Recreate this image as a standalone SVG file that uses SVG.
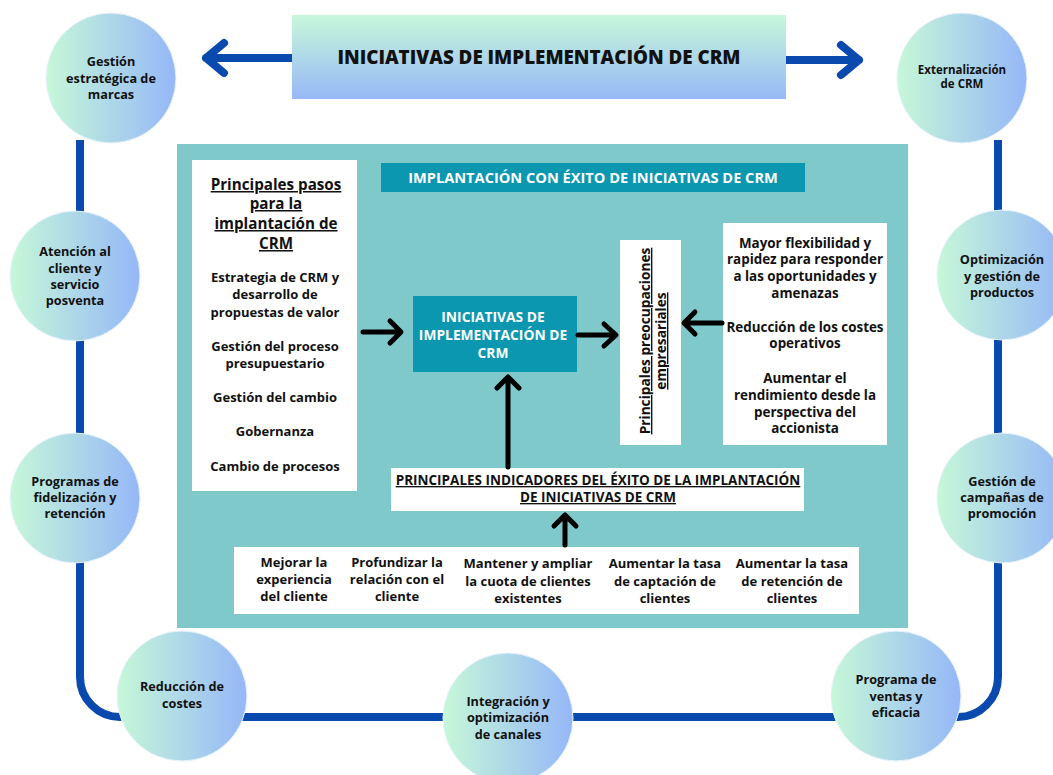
<svg xmlns="http://www.w3.org/2000/svg" width="1053" height="775" viewBox="0 0 1053 775">
<defs>
<linearGradient id="gc" x1="0" y1="0" x2="1" y2="0">
<stop offset="0" stop-color="#c6f8d8"/>
<stop offset="1" stop-color="#95b7f8"/>
</linearGradient>
<linearGradient id="gh" x1="0" y1="0" x2="0" y2="1">
<stop offset="0" stop-color="#c8f8da"/>
<stop offset="1" stop-color="#97b8f7"/>
</linearGradient>
<style>
text{font-family:"Open Sans","Liberation Sans",sans-serif;font-weight:700;fill:#111;text-anchor:middle}
.c{font-size:12.7px}
.b{font-size:13px}
.r{font-size:13.4px}
.w{fill:#fff}
.u{text-decoration:underline}
.circ{fill:url(#gc);stroke:#e8f2ff;stroke-width:1}
.wb{fill:#fff}
.blue{fill:none;stroke:#0a49ad;stroke-width:8;stroke-linecap:round;stroke-linejoin:round}
.blk{fill:none;stroke:#000;stroke-width:5;stroke-linecap:round;stroke-linejoin:round}
</style>
</defs>
<rect width="1053" height="775" fill="#fff"/>
<g id="connectors">
<path d="M80,140 V677 A40,40 0 0 0 120,717 H958 A40,40 0 0 0 998,677 V140" fill="none" stroke="#0a49ad" stroke-width="8"/>
<path class="blue" d="M292,58 H206 M224,43 L206,58 L224,73"/>
<path class="blue" d="M786,60 H859 M841,45 L859,60 L841,75"/>
</g>
<g id="header">
<rect x="292" y="15" width="494" height="84" fill="url(#gh)"/>
<text x="539" y="64" style="font-size:18.8px;font-weight:800">INICIATIVAS DE IMPLEMENTACIÓN DE CRM</text>
</g>
<g id="panel">
<rect x="177" y="144" width="731" height="484" fill="#80c9ca"/>
</g>
<g id="title-bar">
<rect x="381" y="163" width="424" height="29" fill="#0b97b0"/>
<text class="w" x="593" y="183" style="font-size:14.6px">IMPLANTACIÓN CON ÉXITO DE INICIATIVAS DE CRM</text>
</g>
<g id="pasos">
<rect class="wb" x="192" y="160" width="165" height="331"/>
<text class="u" x="276" y="190" style="font-size:15.2px">Principales pasos</text>
<text class="u" x="276" y="209" style="font-size:15.2px">para la</text>
<text class="u" x="276" y="229" style="font-size:15.2px">implantación de</text>
<text class="u" x="276" y="249" style="font-size:15.2px">CRM</text>
<text class="b" x="275" y="282">Estrategia de CRM y</text>
<text class="b" x="275" y="299">desarrollo de</text>
<text class="b" x="275" y="317">propuestas de valor</text>
<text class="b" x="275" y="351">Gestión del proceso</text>
<text class="b" x="275" y="368">presupuestario</text>
<text class="b" x="275" y="402">Gestión del cambio</text>
<text class="b" x="275" y="436">Gobernanza</text>
<text class="b" x="275" y="471">Cambio de procesos</text>
</g>
<g id="iniciativas">
<rect x="413" y="296" width="164" height="76" fill="#0b97b0"/>
<text class="w" x="493" y="322" style="font-size:13.8px">INICIATIVAS DE</text>
<text class="w" x="493" y="340" style="font-size:13.8px">IMPLEMENTACIÓN DE</text>
<text class="w" x="493" y="358" style="font-size:13.8px">CRM</text>
</g>
<g id="preocupaciones">
<rect class="wb" x="620" y="240" width="61" height="205"/>
<g transform="translate(650,341) rotate(-90)">
<text class="u" x="0" y="0" style="font-size:13.7px">Principales preocupaciones</text>
<text class="u" x="0" y="16" style="font-size:13.7px">empresariales</text>
</g>
</g>
<g id="beneficios">
<rect class="wb" x="723" y="223" width="164" height="222"/>
<text class="r" x="805" y="248">Mayor flexibilidad y</text>
<text class="r" x="805" y="264">rapidez para responder</text>
<text class="r" x="805" y="281">a las oportunidades y</text>
<text class="r" x="805" y="298">amenazas</text>
<text class="r" x="805" y="332">Reducción de los costes</text>
<text class="r" x="805" y="348">operativos</text>
<text class="r" x="805" y="383">Aumentar el</text>
<text class="r" x="805" y="400">rendimiento desde la</text>
<text class="r" x="805" y="417">perspectiva del</text>
<text class="r" x="805" y="433">accionista</text>
</g>
<g id="indicadores">
<rect class="wb" x="391" y="468" width="413" height="43"/>
<text class="u" x="598" y="485" style="font-size:13.5px">PRINCIPALES INDICADORES DEL ÉXITO DE LA IMPLANTACIÓN</text>
<text class="u" x="598" y="502" style="font-size:13.5px">DE INICIATIVAS DE CRM</text>
</g>
<g id="metricas">
<rect class="wb" x="234" y="547" width="625" height="67"/>
<text class="b" x="294" y="567">Mejorar la</text>
<text class="b" x="294" y="584">experiencia</text>
<text class="b" x="294" y="601">del cliente</text>
<text class="b" x="397" y="567">Profundizar la</text>
<text class="b" x="397" y="584">relación con el</text>
<text class="b" x="397" y="601">cliente</text>
<text class="b" x="528" y="568">Mantener y ampliar</text>
<text class="b" x="528" y="586">la cuota de clientes</text>
<text class="b" x="528" y="603">existentes</text>
<text class="b" x="665" y="568">Aumentar la tasa</text>
<text class="b" x="665" y="586">de captación de</text>
<text class="b" x="665" y="603">clientes</text>
<text class="b" x="792" y="568">Aumentar la tasa</text>
<text class="b" x="792" y="586">de retención de</text>
<text class="b" x="792" y="603">clientes</text>
</g>
<g id="inner-arrows">
<path class="blk" d="M363,332 H400 M390,321 L401,332 L390,343"/>
<path class="blk" d="M578,335 H615 M604,324 L616,335 L604,346"/>
<path class="blk" d="M722,323 H685 M695,312 L684,323 L695,334"/>
<path class="blk" d="M508,467 V378 M497,388 L508,377 L519,388"/>
<path class="blk" d="M565,545 V516 M554,526 L565,515 L576,526"/>
</g>
<g id="n-marcas">
<circle class="circ" cx="111" cy="78" r="65"/>
<text class="c" x="111" y="66">Gestión</text>
<text class="c" x="111" y="83">estratégica de</text>
<text class="c" x="111" y="99">marcas</text>
</g>
<g id="n-externalizacion">
<circle class="circ" cx="962" cy="78" r="65"/>
<text class="c" x="962" y="74" style="font-size:11.5px">Externalización</text>
<text class="c" x="962" y="88" style="font-size:11.5px">de CRM</text>
</g>
<g id="n-atencion">
<circle class="circ" cx="75" cy="276" r="65"/>
<text class="c" x="75" y="256">Atención al</text>
<text class="c" x="75" y="273">cliente y</text>
<text class="c" x="75" y="289">servicio</text>
<text class="c" x="75" y="305">posventa</text>
</g>
<g id="n-fidelizacion">
<circle class="circ" cx="75" cy="498" r="65"/>
<text class="c" x="75" y="486">Programas de</text>
<text class="c" x="75" y="502">fidelización y</text>
<text class="c" x="75" y="518">retención</text>
</g>
<g id="n-productos">
<circle class="circ" cx="1002" cy="275" r="65"/>
<text class="c" x="1002" y="264">Optimización</text>
<text class="c" x="1002" y="281">y gestión de</text>
<text class="c" x="1002" y="297">productos</text>
</g>
<g id="n-campanas">
<circle class="circ" cx="1002" cy="498" r="65"/>
<text class="c" x="1002" y="486">Gestión de</text>
<text class="c" x="1002" y="502">campañas de</text>
<text class="c" x="1002" y="518">promoción</text>
</g>
<g id="n-costes">
<circle class="circ" cx="182" cy="696" r="65"/>
<text class="c" x="182" y="691">Reducción de</text>
<text class="c" x="182" y="708">costes</text>
</g>
<g id="n-canales">
<circle class="circ" cx="508" cy="718" r="65"/>
<text class="c" x="508" y="706">Integración y</text>
<text class="c" x="508" y="722">optimización</text>
<text class="c" x="508" y="739">de canales</text>
</g>
<g id="n-ventas">
<circle class="circ" cx="896" cy="696" r="65"/>
<text class="c" x="896" y="684">Programa de</text>
<text class="c" x="896" y="701">ventas y</text>
<text class="c" x="896" y="717">eficacia</text>
</g>
</svg>
